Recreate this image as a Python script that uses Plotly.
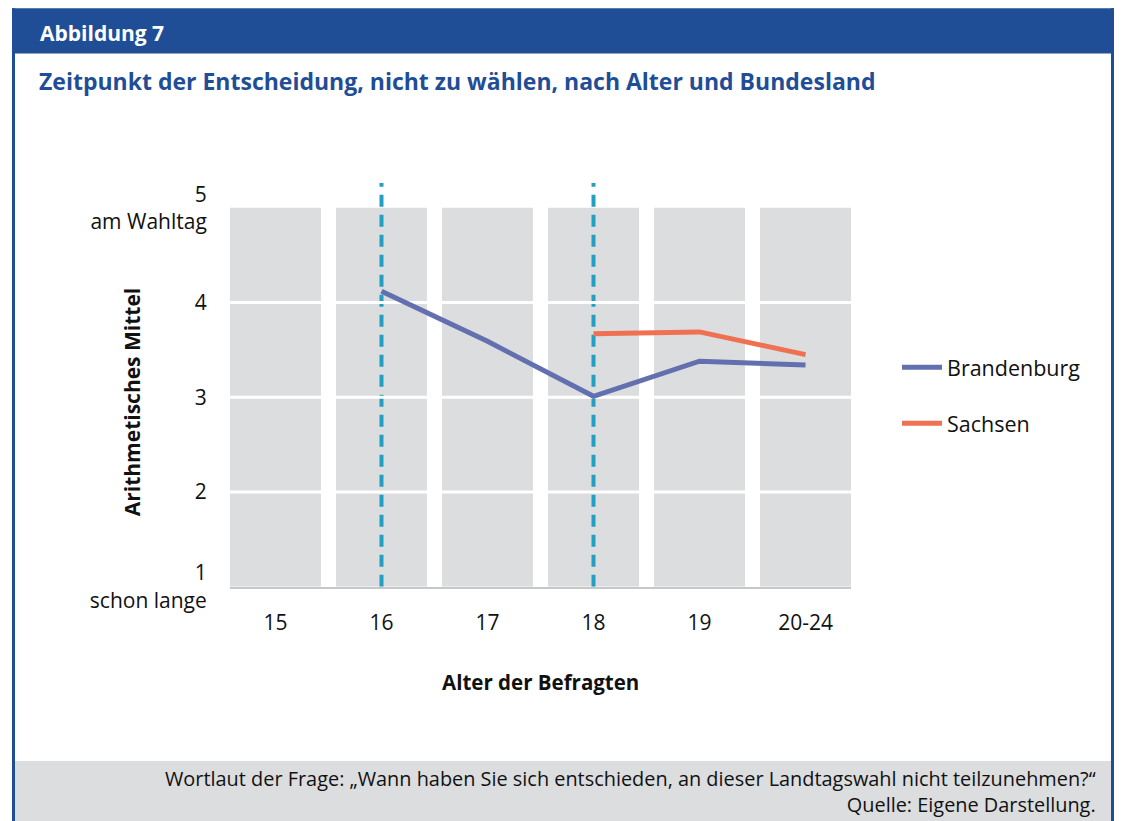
import plotly.graph_objects as go

# page body has an 8px margin; the photographed page is compressed vertically,
# so layout positions are mapped from the reference picture with SY / DY
OFF = 8
SY, DY = 0.963, 3.0
W = 1122 - 2 * OFF
H = 836

categories = ["15", "16", "17", "18", "19", "20-24"]
brandenburg = [None, 4.12, 3.59, 3.01, 3.38, 3.34]
sachsen = [None, None, None, 3.67, 3.69, 3.45]
y_ticks = [1, 2, 3, 4, 5]
y_ticktext = ["1<br>schon lange", "2", "3", "4", "5<br>am Wahltag"]
marker_categories = ["16", "18"]
y_top = 5.265

BLUE = "#1f4e96"
GREY = "#dcdddf"
FONT = "Open Sans"

idx = list(range(len(categories)))
y_min, y_max = min(y_ticks), max(y_ticks)
bar_w = 0.858
x_range = [-bar_w / 2, len(categories) - 1 + bar_w / 2]


def px(x):
    return (x - OFF) / W


def py(y):
    return 1 - ((y - DY) / SY - OFF) / H


fig = go.Figure()

# grey columns
fig.add_trace(go.Bar(x=idx, y=[y_max - y_min] * len(idx), base=y_min, width=bar_w,
                     marker=dict(color=GREY, line=dict(width=0)),
                     showlegend=False, hoverinfo="skip"))
# dashed reference lines
for c in marker_categories:
    i = categories.index(c)
    fig.add_trace(go.Scatter(x=[i, i], y=[y_min, y_top], mode="lines",
                             line=dict(color="#229fc3", width=4, dash="12px,8px"),
                             showlegend=False, hoverinfo="skip"))
# white gridlines over the columns
for g in y_ticks[1:-1]:
    fig.add_trace(go.Scatter(x=x_range, y=[g, g], mode="lines",
                             line=dict(color="white", width=3),
                             showlegend=False, hoverinfo="skip"))

fig.add_trace(go.Scatter(x=idx, y=brandenburg, mode="lines", name="Brandenburg",
                         line=dict(color="#6370b0", width=5), legendgroup="b"))
fig.add_trace(go.Scatter(x=idx, y=sachsen, mode="lines", name="Sachsen",
                         line=dict(color="#f07052", width=5), legendgroup="s"))

shapes = [
    # header band
    dict(type="rect", xref="paper", yref="paper", x0=px(12), x1=px(1114), y0=py(54), y1=py(9),
         fillcolor=BLUE, line=dict(width=0), layer="below"),
    # side borders
    dict(type="rect", xref="paper", yref="paper", x0=px(12), x1=px(15), y0=-0.05, y1=py(9),
         fillcolor=BLUE, line=dict(width=0), layer="below"),
    dict(type="rect", xref="paper", yref="paper", x0=px(1111), x1=px(1114), y0=-0.05, y1=py(9),
         fillcolor=BLUE, line=dict(width=0), layer="below"),
    # footer
    dict(type="rect", xref="paper", yref="paper", x0=px(15), x1=px(1111), y0=-0.05, y1=py(760),
         fillcolor=GREY, line=dict(width=0), layer="below"),
]

annotations = [
    dict(text="<b>Abbildung 7</b>", x=px(38), y=py(34), xref="paper", yref="paper",
         xanchor="left", yanchor="middle", showarrow=False,
         font=dict(family=FONT, size=21, color="white")),
    dict(text="<b>Zeitpunkt der Entscheidung, nicht zu wählen, nach Alter und Bundesland</b>",
         x=px(37), y=py(82), xref="paper", yref="paper",
         xanchor="left", yanchor="middle", showarrow=False,
         font=dict(family=FONT, size=23, color=BLUE)),
    dict(text="<b>Alter der Befragten</b>", x=px(540), y=py(681), xref="paper", yref="paper",
         xanchor="center", yanchor="middle", showarrow=False,
         font=dict(family=FONT, size=20.5, color="#111111")),
    dict(text="<b>Arithmetisches Mittel</b>", x=px(132), y=py(402), xref="paper", yref="paper",
         xanchor="center", yanchor="middle", showarrow=False, textangle=-90,
         font=dict(family=FONT, size=21, color="#111111")),
    dict(text="Wortlaut der Frage: „Wann haben Sie sich entschieden, an dieser Landtagswahl nicht teilzunehmen?“<br>Quelle: Eigene Darstellung.",
         x=px(1098), y=py(790.5), xref="paper", yref="paper",
         xanchor="right", yanchor="middle", align="right", showarrow=False,
         font=dict(family=FONT, size=19.9, color="#111111")),
]

fig.update_layout(
    width=W, height=H,
    margin=dict(l=0, r=0, t=0, b=0),
    paper_bgcolor="white", plot_bgcolor="white",
    font=dict(family=FONT, size=21, color="#111111"),
    shapes=shapes, annotations=annotations,
    barmode="overlay",
    xaxis=dict(domain=[px(230), px(851)], range=x_range, tickmode="array",
               tickvals=idx, ticktext=categories, showgrid=False, zeroline=False,
               showline=True, linecolor="#c6c7c9", linewidth=2,
               ticks="outside", ticklen=16, tickcolor="rgba(0,0,0,0)",
               tickfont=dict(family=FONT, size=21, color="#111111"), fixedrange=True),
    yaxis=dict(domain=[py(586), py(183)], range=[y_min, y_top], tickmode="array",
               tickvals=y_ticks, ticktext=y_ticktext, showgrid=False, zeroline=False,
               showline=False, ticks="outside", ticklen=18, tickcolor="rgba(0,0,0,0)",
               tickfont=dict(family=FONT, size=21, color="#111111"), fixedrange=True),
    legend=dict(x=px(897), y=py(395), xanchor="left", yanchor="middle",
                font=dict(family=FONT, size=21.5, color="#111111"),
                tracegroupgap=25, itemwidth=40, bgcolor="rgba(0,0,0,0)"),
)

fig.write_html("out.html")
